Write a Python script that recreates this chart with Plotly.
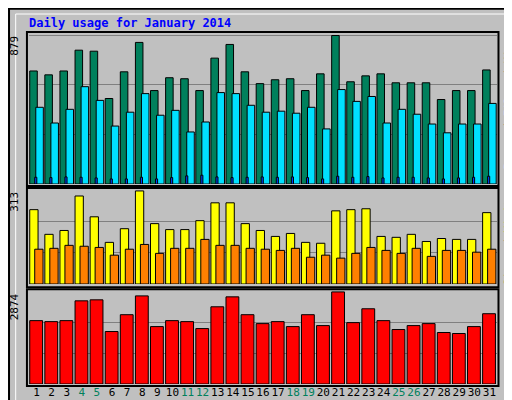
import plotly.graph_objects as go

days = list(range(1, 32))
hits = [669,646,669,792,786,506,664,838,553,629,623,553,745,826,664,594,617,623,553,652,879,605,640,652,599,599,599,500,553,553,675]
files = [454,361,442,576,495,343,425,535,407,436,308,367,541,535,466,425,431,419,454,326,559,489,518,361,442,413,355,303,355,355,477]
pages = [40,38,42,40,36,30,30,40,30,38,48,52,42,38,40,42,40,42,38,30,46,40,44,36,40,40,36,30,36,40,46]
visits = [250,167,180,296,226,140,186,313,203,183,183,213,273,273,203,180,160,170,140,137,246,250,253,160,157,167,143,153,150,150,240]
sites = [117,120,130,127,123,97,117,133,103,120,120,150,130,130,120,117,113,120,90,97,87,103,123,113,103,120,93,113,113,107,117]
kbytes = [1978,1947,1978,2596,2627,1638,2163,2750,1792,1978,1947,1730,2410,2720,2163,1885,1947,1792,2163,1823,2874,1916,2348,1978,1700,1823,1885,1607,1576,1792,2194]
weekends = [4,5,11,12,18,19,25,26]
maxes = [879, 313, 2874]

fig = go.Figure()
ln = dict(color="black", width=1)
def bar(y, color, ax, off, w):
    fig.add_trace(go.Bar(x=days, y=y, marker=dict(color=color, line=ln), offset=off, width=w,
                         xaxis="x", yaxis=ax, showlegend=False))

bar(hits, "#00805c", "y", -0.45, 0.5)
bar(files, "#00e0ff", "y", -0.05, 0.5)
bar(pages, "#0040ff", "y", -0.12, 0.14)
bar(visits, "#ffff00", "y2", -0.45, 0.55)
bar(sites, "#ff8000", "y2", -0.12, 0.55)
bar(kbytes, "#ff0000", "y3", -0.45, 0.85)

ticktext = [f"<span style='color:#00805c'>{d}</span>" if d in weekends else str(d) for d in days]
font = dict(family="DejaVu Sans Mono", size=11, color="black")
yax = dict(showticklabels=False, showgrid=True, gridcolor="#808080", gridwidth=1, zeroline=False, ticks="", fixedrange=True)
fig.update_layout(
    width=512, height=400, margin=dict(l=0, r=0, t=0, b=0),
    paper_bgcolor="#c0c0c0", plot_bgcolor="#c0c0c0", barmode="overlay", font=font,
    xaxis=dict(domain=[0.041, 0.955], range=[0.5, 31.5], tickvals=days, ticktext=ticktext,
               showgrid=False, ticks="", anchor="y3", tickangle=0, tickfont=dict(size=11)),
    yaxis=dict(domain=[0.56, 0.935], range=[0, 879*1.01], dtick=879/3, **yax),
    yaxis2=dict(domain=[0.31, 0.545], range=[0, 313*1.01], dtick=313/3, **yax),
    yaxis3=dict(domain=[0.06, 0.2925], range=[0, 2874*1.01], dtick=2874/3, **yax),
)
shapes = [
    dict(type="rect", xref="paper", yref="paper", x0=0.002, x1=0.998, y0=0.002, y1=0.998, line=dict(color="black", width=2)),
    dict(type="rect", xref="paper", yref="paper", x0=0.015, x1=0.985, y0=0.015, y1=0.985, line=dict(color="white", width=1)),
]
for y0, y1 in [(0.555, 0.94), (0.302, 0.55), (0.055, 0.297)]:
    shapes.append(dict(type="rect", xref="paper", yref="paper", x0=0.037, x1=0.958, y0=y0, y1=y1, line=dict(color="black", width=2)))
fig.update_layout(shapes=shapes)

ann = [dict(text="<b>Daily usage for January 2014</b>", x=0.037, y=0.985, xref="paper", yref="paper",
            xanchor="left", yanchor="top", showarrow=False, font=dict(family="DejaVu Sans Mono", size=12, color="#0000ff"))]
for m, ytop in zip(maxes, [0.935, 0.545, 0.2925]):
    ann.append(dict(text=str(m), x=0.03, y=ytop, xref="paper", yref="paper", textangle=-90,
                    xanchor="right", yanchor="top", showarrow=False, font=dict(size=11)))
side = [("<span style='color:#00e0ff'>Pages</span> / <span style='color:#00e0ff'>Files</span> / <span style='color:#00805c'>Hits</span>", 0.935, "top"),
        ("<span style='color:#ff8000'>Sites</span> / <span style='color:#e0e000'>Visits</span>", 0.545, "top"),
        ("<span style='color:#ff0000'>KBytes</span>", 0.06, "bottom")]
for t, yt, ya in side:
    ann.append(dict(text=t, x=0.995, y=yt, xref="paper", yref="paper", textangle=-90,
                    xanchor="right", yanchor=ya, showarrow=False, font=dict(size=11, color="black")))
fig.update_layout(annotations=ann)
fig.write_html("out.html")
